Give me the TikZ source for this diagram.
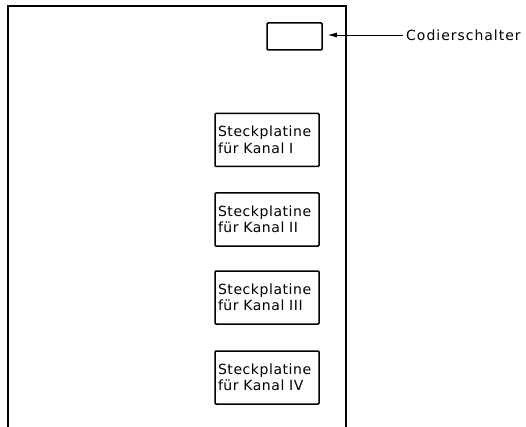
\documentclass[tikz,border=0pt]{standalone}
\usepackage{fontspec}
\setmainfont{DejaVu Sans}[LetterSpace=4]
\usetikzlibrary{arrows.meta}
\begin{document}
\begin{tikzpicture}[x=1pt, y=-1pt, font=\fontsize{14}{16.5}\selectfont,
  slot/.style={draw, line width=1.5pt, rounded corners=1pt, text width=98pt, inner sep=3pt, align=left, minimum height=53pt}]
\useasboundingbox (0,0) rectangle (526,427);
\draw[line width=1.8pt] (8,427) -- (8,6) -- (346,6) -- (346,427);
\node[draw, line width=1.5pt, rounded corners=1pt, minimum width=55pt, minimum height=27pt] (sw) at (294.5,36.5) {};
\node[anchor=west, inner sep=0pt] (lbl) at (406,35) {\addfontfeature{LetterSpace=7}Codierschalter};
\draw[line width=0.9pt, -{Latex[length=9pt, width=5pt]}, shorten >=5pt] (lbl.west) ++(-3,0) -- (sw.east |- lbl.west);
\node[slot] (k1) at (267,140) {Steckplatine\\für Kanal I};
\node[slot] (k2) at (267,219.5) {Steckplatine\\für Kanal II};
\node[slot] (k3) at (267,297.5) {Steckplatine\\für Kanal III};
\node[slot] (k4) at (267,377.5) {Steckplatine\\für Kanal IV};
\end{tikzpicture}
\end{document}
